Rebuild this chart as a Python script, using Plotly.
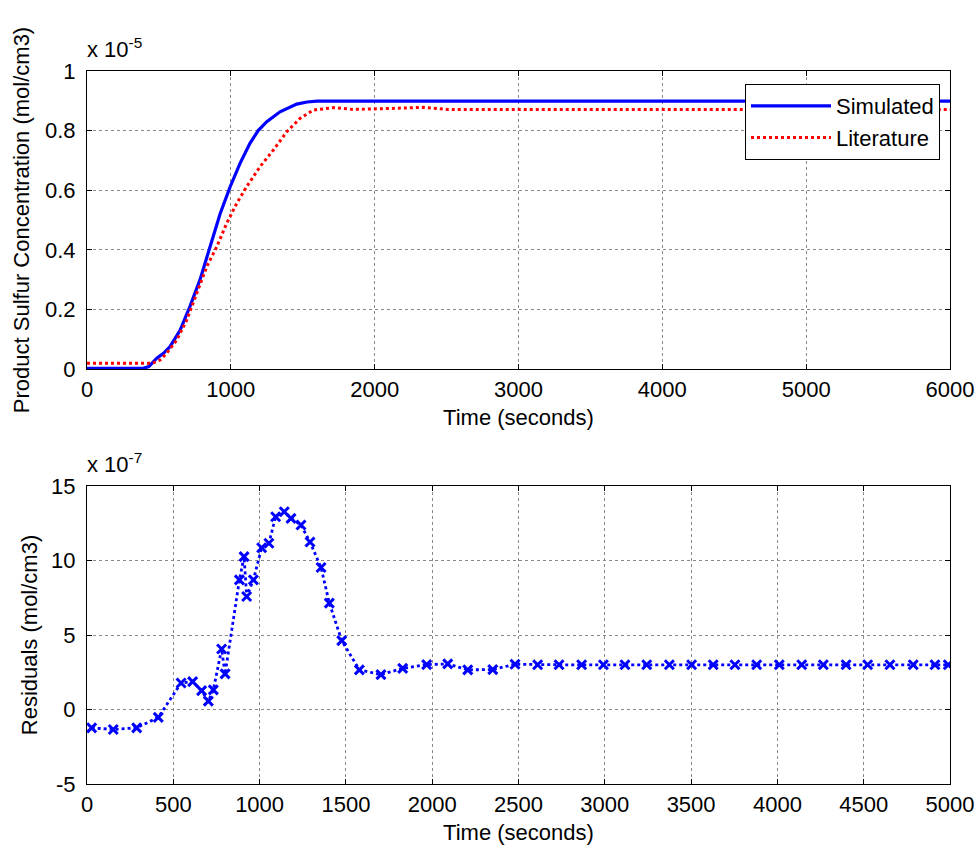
import plotly.graph_objects as go

# ---------------- data ----------------
# top panel: concentration in units of 1e-5 mol/cm3
sim_time = [0, 390, 430, 485, 530, 577, 647, 716, 786, 855, 925, 994, 1064, 1133,
            1190, 1250, 1342, 1458, 1530, 1600, 6000]
sim_conc = [0.002, 0.002, 0.008, 0.036, 0.052, 0.075, 0.13, 0.21, 0.30, 0.41, 0.52,
            0.61, 0.69, 0.757, 0.80, 0.83, 0.863, 0.889, 0.896, 0.899, 0.899]

lit_time = [0, 450, 508, 554, 624, 693, 763, 832, 902, 971, 1041, 1110, 1203, 1296,
            1389, 1481, 1574, 1713, 1852, 2000, 2154, 2337, 2501, 6000]
lit_conc = [0.019, 0.019, 0.03, 0.053, 0.097, 0.164, 0.254, 0.343, 0.41, 0.489, 0.556,
            0.612, 0.679, 0.735, 0.796, 0.841, 0.869, 0.877, 0.871, 0.872, 0.875,
            0.878, 0.871, 0.871]

# bottom panel: residuals in units of 1e-7 mol/cm3
res_time = [27, 152, 288, 413, 545, 612, 664, 703, 732, 780, 800, 883, 910, 925, 964,
            1012, 1054, 1093, 1143, 1182, 1240, 1292, 1356, 1404, 1476, 1578, 1703,
            1829, 1968, 2090, 2206, 2351, 2480, 2611, 2735, 2866, 2992, 3117, 3243,
            3374, 3503, 3628, 3754, 3880, 4011, 4141, 4266, 4398, 4523, 4652, 4787,
            4913, 4990]
res_val = [-1.23, -1.34, -1.23, -0.53, 1.78, 1.87, 1.27, 0.56, 1.32, 4.06, 2.39, 8.70,
           10.26, 7.58, 8.70, 10.86, 11.16, 12.94, 13.27, 12.83, 12.38, 11.24, 9.53,
           7.14, 4.62, 2.66, 2.34, 2.76, 3.01, 3.06, 2.66, 2.68, 3.04, 3.0, 3.0, 3.0,
           3.0, 3.0, 3.0, 3.0, 3.0, 3.0, 3.0, 3.0, 3.0, 3.0, 3.0, 3.0, 3.0, 3.0, 3.0,
           3.0, 3.0]

top_xticks = [0, 1000, 2000, 3000, 4000, 5000, 6000]
top_yticks = [0, 0.2, 0.4, 0.6, 0.8, 1]
top_yticklabels = ["0", "0.2", "0.4", "0.6", "0.8", "1"]
bot_xticks = [0, 500, 1000, 1500, 2000, 2500, 3000, 3500, 4000, 4500, 5000]
bot_yticks = [-5, 0, 5, 10, 15]
bot_yticklabels = ["-5", "0", "5", "10", "15"]

# ---------------- figure ----------------
FONT = "Liberation Sans, Arial, sans-serif"
FS = 22
W, H = 975, 846

fig = go.Figure()
fig.add_trace(go.Scatter(x=sim_time, y=sim_conc, mode="lines", name="Simulated",
                         line=dict(color="#0000ff", width=3.2), xaxis="x", yaxis="y"))
fig.add_trace(go.Scatter(x=lit_time, y=lit_conc, mode="lines", name="Literature",
                         line=dict(color="#ff0000", width=3, dash="dot"), xaxis="x", yaxis="y"))
fig.add_trace(go.Scatter(x=res_time, y=res_val, mode="lines+markers", showlegend=False,
                         line=dict(color="#0000ff", width=2.8, dash="dot"),
                         marker=dict(symbol="x-thin", size=9, color="#0000ff",
                                     line=dict(color="#0000ff", width=3)),
                         xaxis="x2", yaxis="y2"))

def px2x(p):
    return p / W

def px2y(p):
    return 1 - p / H

common = dict(showline=True, linecolor="black", linewidth=1, mirror="ticks",
              ticks="inside", ticklen=5, tickcolor="black", showgrid=True,
              gridcolor="#8a8a8a", gridwidth=1, griddash="dot", zeroline=False,
              tickfont=dict(family=FONT, size=FS, color="black"),
              automargin=False)

xdom = [px2x(87), px2x(950)]
fig.update_layout(
    width=W, height=H, margin=dict(l=0, r=0, t=0, b=0, autoexpand=False),
    paper_bgcolor="white", plot_bgcolor="white",
    font=dict(family=FONT, size=FS, color="black"),
    xaxis=dict(domain=xdom, anchor="y", range=[0, 6000], tickvals=top_xticks,
               ticklabelstandoff=1,
               title=dict(text="Time (seconds)", standoff=8,
                          font=dict(family=FONT, size=FS)), **common),
    yaxis=dict(domain=[px2y(369), px2y(71)], anchor="x", range=[0, 1],
               tickvals=top_yticks, ticktext=top_yticklabels, ticklabelstandoff=6,
               title=dict(text="Product Sulfur Concentration (mol/cm3)", standoff=9,
                          font=dict(family=FONT, size=FS)), **common),
    xaxis2=dict(domain=xdom, anchor="y2", range=[0, 5000], tickvals=bot_xticks,
                ticklabelstandoff=1,
                title=dict(text="Time (seconds)", standoff=8,
                           font=dict(family=FONT, size=FS)), **common),
    yaxis2=dict(domain=[px2y(784), px2y(486)], anchor="x2", range=[-5, 15],
                tickvals=bot_yticks, ticktext=bot_yticklabels, ticklabelstandoff=6,
                title=dict(text="Residuals (mol/cm3)", standoff=7,
                           font=dict(family=FONT, size=FS)), **common),
    legend=dict(x=px2x(940), xanchor="right", y=px2y(84), yanchor="top",
                bgcolor="white", bordercolor="black", borderwidth=1,
                font=dict(family=FONT, size=FS), itemwidth=80,
                tracegroupgap=0),
    annotations=[
        dict(text="x 10<sup>-5</sup>", xref="paper", yref="paper",
             x=px2x(85), y=px2y(64), xanchor="left", yanchor="bottom",
             showarrow=False, font=dict(family=FONT, size=FS)),
        dict(text="x 10<sup>-7</sup>", xref="paper", yref="paper",
             x=px2x(85), y=px2y(479), xanchor="left", yanchor="bottom",
             showarrow=False, font=dict(family=FONT, size=FS)),
    ],
)

fig.write_html("out.html")
